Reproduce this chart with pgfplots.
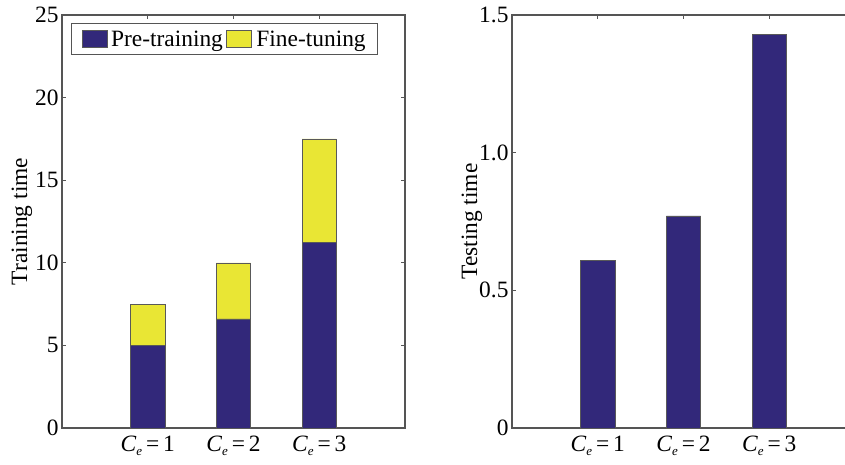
\documentclass[border=0pt]{standalone}
\usepackage{fontspec}
\setmainfont{Liberation Serif}
\usepackage{pgfplots}
\pgfplotsset{compat=1.18}
\definecolor{pblue}{RGB}{50,40,122}
\definecolor{pyellow}{RGB}{233,230,52}
\definecolor{axgray}{RGB}{85,85,85}
\newcommand{\ce}[1]{\textit{C}\raisebox{-4bp}{\fontsize{13}{15}\selectfont\textit{e}}\,=\,#1}
\pgfplotsset{sqlegend/.style={legend image code/.code={\draw[##1] (0bp,-8.5bp) rectangle (25bp,8.5bp);}}}
\begin{document}
\begin{tikzpicture}
\useasboundingbox (-62bp,-37bp) rectangle (783bp,428bp);
\begin{axis}[scale only axis, width=343bp, height=413bp,
  xmin=0, xmax=4, ymin=0, ymax=25, enlargelimits=false,
  ybar stacked, bar width=0.4,
  xtick={1,2,3}, xticklabels={\ce{1},\ce{2},\ce{3}},
  ytick={0,5,...,25}, yticklabels={0,5,10,15,20,25},
  tick align=inside, major tick length=4bp,
  axis line style={axgray, line width=1.2bp},
  tick style={axgray, line width=1bp},
  xticklabel style={font=\fontsize{23.5}{28}\selectfont, yshift=-4bp},
  yticklabel style={font=\fontsize{23.5}{28}\selectfont},
  ylabel={Training time},
  ylabel style={font=\fontsize{23.5}{28}\selectfont, at={(axis description cs:-0.1166,0.5)}, anchor=center},
  legend columns=2,
  legend style={at={(0.026,0.981)}, anchor=north west, draw=axgray, line width=1.4bp,
    inner xsep=10bp, inner ysep=5bp, font=\fontsize{23.5}{28}\selectfont,
    /tikz/every even column/.append style={column sep=1bp}},
]
\addplot[fill=pblue, draw=black!65, line width=0.5bp, sqlegend]
  coordinates {(1,5.0) (2,6.6) (3,11.25)};
\addplot[fill=pyellow, draw=black!65, line width=0.5bp, sqlegend]
  coordinates {(1,2.5) (2,3.4) (3,6.25)};
\legend{\hspace{2bp}Pre-training, \hspace{3bp}Fine-tuning\hspace{13bp}}
\end{axis}
\begin{axis}[at={(450bp,0)}, scale only axis, width=343bp, height=413bp,
  xmin=0, xmax=4, ymin=0, ymax=1.5, enlargelimits=false,
  ybar, bar width=0.4,
  xtick={1,2,3}, xticklabels={\ce{1},\ce{2},\ce{3}},
  ytick={0,0.5,1,1.5}, yticklabels={0,0.5,1.0,1.5},
  tick align=inside, major tick length=4bp,
  axis line style={axgray, line width=1.2bp},
  tick style={axgray, line width=1bp},
  xticklabel style={font=\fontsize{23.5}{28}\selectfont, yshift=-4bp},
  yticklabel style={font=\fontsize{23.5}{28}\selectfont},
  ylabel={Testing time},
  ylabel style={font=\fontsize{23.5}{28}\selectfont, at={(axis description cs:-0.1166,0.5)}, anchor=center},
]
\addplot[fill=pblue, draw=black!65, line width=0.5bp] coordinates {(1,0.61) (2,0.77) (3,1.43)};
\end{axis}
\end{tikzpicture}
\end{document}
